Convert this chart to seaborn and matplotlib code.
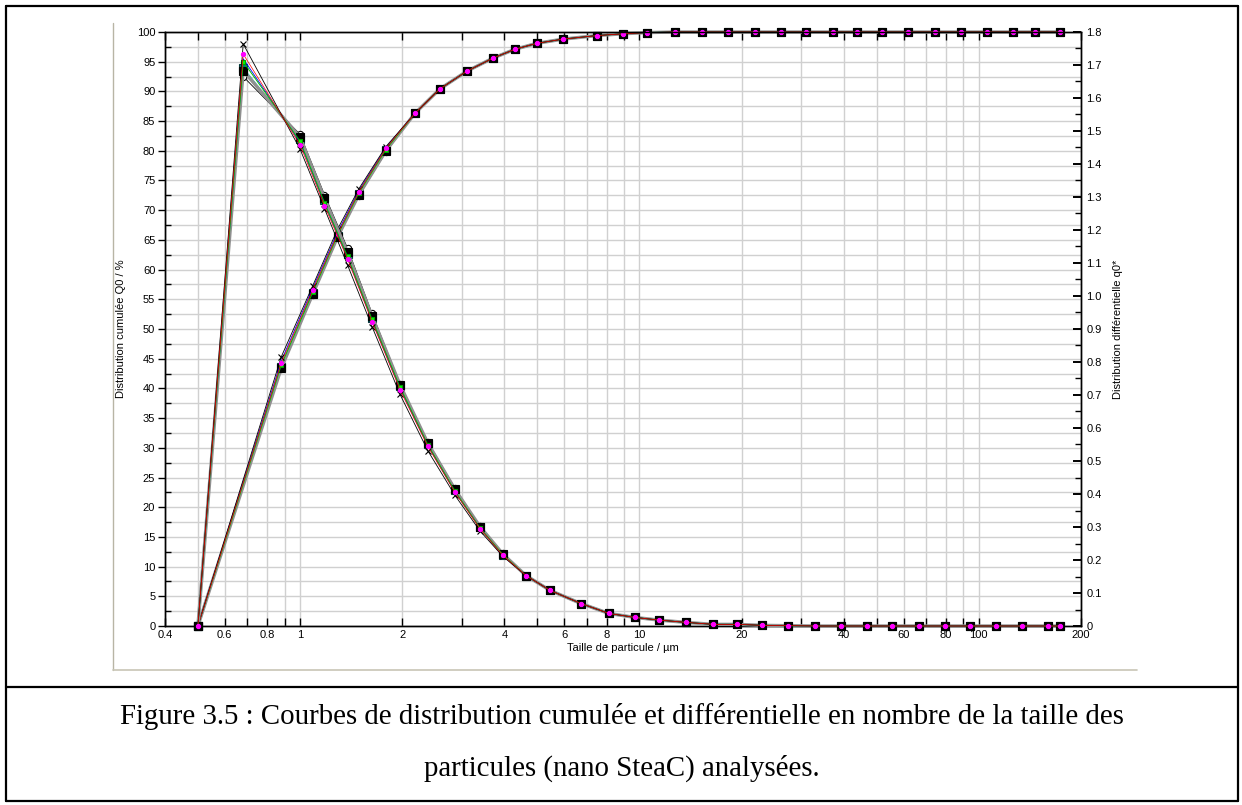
import pandas as pd
import matplotlib
matplotlib.use("Agg")
import matplotlib.pyplot as plt
from matplotlib.lines import Line2D
from matplotlib.ticker import FixedLocator, MultipleLocator, FuncFormatter, NullFormatter
import seaborn as sns

# tailles de particule (µm) - distribution cumulee Q0 (bords superieurs des classes)
x_cumul_debut = [0.50, 0.88, 1.09, 1.29, 1.49, 1.79]
x_cumul_fin = [2.18, 2.58, 3.10, 3.70, 4.30, 4.99, 5.95, 7.5, 8.94, 10.5, 12.7, 15.3, 18.2,
               21.9, 26.1, 31.0, 37.2, 43.8, 51.9, 61.8, 74.2, 88.6, 106, 126, 146, 174]
Q0_fin = [86.3, 90.4, 93.4, 95.6, 97.1, 98.1, 98.8, 99.4, 99.7, 99.9,
          100, 100, 100, 100, 100, 100, 100, 100, 100, 100, 100, 100, 100, 100, 100, 100]

# tailles (µm) - distribution differentielle q0* (centres des classes)
x_diff_debut = [0.50, 0.68, 1.00, 1.18, 1.38, 1.63, 1.97, 2.38, 2.86, 3.39, 3.96]
x_diff_fin = [4.63, 5.45, 6.73, 8.13, 9.70, 11.4, 13.7, 16.5, 19.4, 23.0, 27.4,
              32.9, 39.3, 46.8, 55.5, 66.6, 79.5, 94.2, 112, 134, 160, 174]
q0_fin = [0.153, 0.108, 0.068, 0.038, 0.026, 0.018, 0.011, 0.005, 0.005, 0.002, 0.001,
          0, 0, 0, 0, 0, 0, 0, 0, 0, 0, 0]

# les 7 mesures : debut des courbes (la ou elles se separent)
mesures = ["m1", "m2", "m3", "m4", "m5", "m6", "m7"]
Q0_m1 = [0, 45.3, 57.3, 66.8, 73.6, 80.7]
Q0_m2 = [0, 43.2, 55.7, 65.3, 72.4, 79.8]
Q0_m3 = [0, 44.3, 56.6, 66.0, 73.1, 80.4]
Q0_m4 = [0, 43.9, 56.2, 65.8, 72.9, 80.2]
Q0_m5 = [0, 43.6, 56.0, 65.6, 72.7, 80.1]
Q0_m6 = [0, 43.4, 55.9, 65.5, 72.6, 80.0]
Q0_m7 = [0, 44.6, 56.9, 66.3, 73.3, 80.5]

q0_m1 = [0, 1.764, 1.445, 1.265, 1.094, 0.907, 0.702, 0.531, 0.396, 0.288, 0.211]
q0_m2 = [0, 1.665, 1.490, 1.307, 1.145, 0.947, 0.734, 0.558, 0.418, 0.302, 0.220]
q0_m3 = [0, 1.733, 1.458, 1.274, 1.112, 0.922, 0.716, 0.544, 0.405, 0.295, 0.214]
q0_m4 = [0, 1.710, 1.469, 1.283, 1.120, 0.929, 0.724, 0.549, 0.409, 0.297, 0.216]
q0_m5 = [0, 1.692, 1.476, 1.291, 1.127, 0.934, 0.727, 0.553, 0.412, 0.299, 0.216]
q0_m6 = [0, 1.683, 1.481, 1.296, 1.132, 0.938, 0.731, 0.554, 0.414, 0.301, 0.218]
q0_m7 = [0, 1.719, 1.465, 1.280, 1.116, 0.925, 0.720, 0.547, 0.407, 0.297, 0.214]

Q0_debuts = [Q0_m1, Q0_m2, Q0_m3, Q0_m4, Q0_m5, Q0_m6, Q0_m7]
q0_debuts = [q0_m1, q0_m2, q0_m3, q0_m4, q0_m5, q0_m6, q0_m7]

graduations_x = [0.4, 0.6, 0.8, 1, 2, 4, 6, 8, 10, 20, 40, 60, 80, 100, 200]
graduations_x_min = [0.5, 0.7, 0.9, 3, 5, 7, 9, 30, 50, 70, 90]

# styles de chaque mesure (ordre de trace)
styles = {
    "m6": dict(color="#909090", lw=2.4, marker="s", ms=5.6, mfc="black", mec="black", z=5),
    "m2": dict(color="black", lw=0.6, marker="o", ms=4.5, mfc="white", mec="black", z=3),
    "m5": dict(color="#00c8c8", lw=0.6, marker="s", ms=5.2, mfc="#008080", mec="#003838", z=4),
    "m3": dict(color="#ff0000", lw=0.5, marker="o", ms=3.0, mfc="#ff00ff", mec="#ff00ff", z=8),
    "m7": dict(color="#0000ff", lw=0.6, marker="", ms=0, mfc="none", mec="none", z=6),
    "m4": dict(color="#00c000", lw=0.7, marker="s", ms=2.6, mfc="#00ff00", mec="#00a000", z=6),
    "m1": dict(color="black", lw=0.6, marker="x", ms=5, mfc="black", mec="black", z=6),
}

lignes = []
for m, Qd, qd in zip(mesures, Q0_debuts, q0_debuts):
    for x, v in zip(x_cumul_debut + x_cumul_fin, Qd + Q0_fin):
        lignes.append({"mesure": m, "courbe": "Q0", "taille": x, "valeur": v})
    for x, v in zip(x_diff_debut + x_diff_fin, qd + q0_fin):
        lignes.append({"mesure": m, "courbe": "q0", "taille": x, "valeur": v})
df = pd.DataFrame(lignes)

sns.set_theme(style="ticks")
plt.rcParams["font.family"] = ["Liberation Sans", "DejaVu Sans"]
for cle in ["text.color", "axes.labelcolor", "xtick.color", "ytick.color"]:
    plt.rcParams[cle] = "black"

W, H = 1242, 805
fig = plt.figure(figsize=(W / 100, H / 100), dpi=100)
ax = fig.add_axes([165 / W, 1 - 626 / H, (1081 - 165) / W, (626 - 32) / H])
ax2 = ax.twinx()

for m in styles:
    st = styles[m]
    for courbe, axe in [("Q0", ax), ("q0", ax2)]:
        d = df[(df.mesure == m) & (df.courbe == courbe)]
        sns.lineplot(data=d, x="taille", y="valeur", ax=axe, color=st["color"], lw=st["lw"],
                     marker=st["marker"] or None, markersize=st["ms"], markerfacecolor=st["mfc"],
                     markeredgecolor=st["mec"], markeredgewidth=0.8, zorder=st["z"],
                     clip_on=False, legend=False)

ax.set_xscale("log")
ax.set_xlim(0.4, 200)
ax.set_ylim(0, 100)
ax2.set_ylim(0, 1.8)

ax.xaxis.set_major_locator(FixedLocator(graduations_x))
ax.xaxis.set_minor_locator(FixedLocator(graduations_x_min))
ax.xaxis.set_major_formatter(FuncFormatter(lambda v, p: f"{v:g}"))
ax.xaxis.set_minor_formatter(NullFormatter())
ax.yaxis.set_major_locator(MultipleLocator(5))
ax.yaxis.set_minor_locator(MultipleLocator(2.5))
ax2.yaxis.set_major_locator(MultipleLocator(0.1))
ax2.yaxis.set_minor_locator(MultipleLocator(0.05))
ax2.yaxis.set_major_formatter(FuncFormatter(lambda v, p: "0" if abs(v) < 1e-9 else f"{v:.1f}"))

ax.tick_params(axis="x", which="both", direction="in", top=True, bottom=True,
               length=6, width=1, color="black", labelsize=8, pad=3)
ax.tick_params(axis="y", which="major", direction="out", length=5, width=1,
               color="black", labelsize=8, right=False, pad=2)
ax.tick_params(axis="y", which="minor", direction="in", length=4, width=1,
               color="black", right=False)
ax2.tick_params(axis="y", which="major", direction="in", length=6, width=1.4,
                color="black", labelsize=8, pad=4)
ax2.tick_params(axis="y", which="minor", direction="in", length=4, width=1, color="black")

ax.grid(True, which="both", color="#d0d0d0", lw=1.0)
ax.set_axisbelow(True)
for a in (ax, ax2):
    for s in a.spines.values():
        s.set_color("black")
        s.set_linewidth(1.0)

ax.set_xlabel("Taille de particule / µm", fontsize=8, labelpad=2)
ax.set_ylabel("Distribution cumulée Q0 / %", fontsize=8, labelpad=8)
ax2.set_ylabel("Distribution différentielle q0*", fontsize=8, labelpad=8)


def trait(x0, y0, x1, y1, couleur, lw):
    fig.add_artist(Line2D([x0 / W, x1 / W], [1 - y0 / H, 1 - y1 / H],
                          transform=fig.transFigure, color=couleur, lw=lw))


# cadre de la capture d'ecran
trait(113, 23, 113, 670, "#b8b5a5", 1.0)
trait(113, 670, 1137, 670, "#c8c5b5", 1.2)
# cadre du tableau
trait(6, 6, 1238, 6, "black", 1.6)
trait(6, 6, 6, 801, "black", 1.6)
trait(1238, 6, 1238, 801, "black", 1.6)
trait(6, 801, 1238, 801, "black", 1.6)
trait(6, 687, 1238, 687, "black", 1.6)

police_legende = ["Liberation Serif", "DejaVu Serif"]
fig.text(622 / W, 1 - 716 / H,
         "Figure 3.5 : Courbes de distribution cumulée et différentielle en nombre de la taille des",
         ha="center", va="center", family=police_legende, size=20.8)
fig.text(622 / W, 1 - 768 / H, "particules (nano SteaC) analysées.",
         ha="center", va="center", family=police_legende, size=20.8)

fig.savefig("out.png", dpi=100)
